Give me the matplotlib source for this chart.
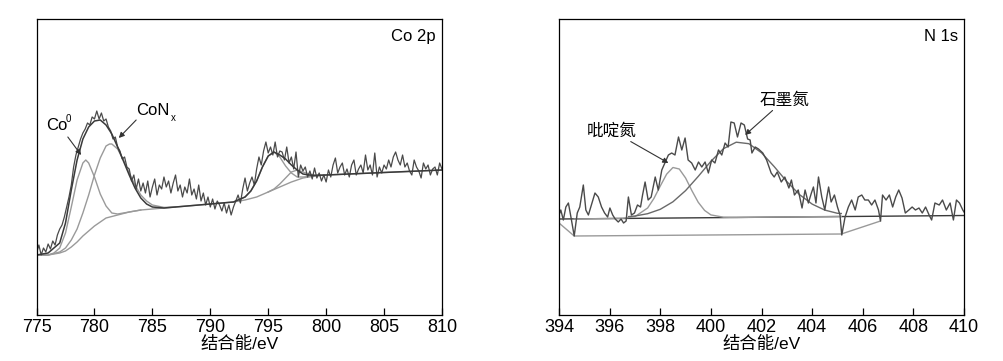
import numpy as np
import matplotlib.pyplot as plt

plt.rcParams['font.family'] = ['Liberation Sans', 'Noto Sans CJK SC', 'DejaVu Sans']

# ---- Co 2p ----
co_e = np.linspace(775, 810, 176)
co_raw = [62, 70, 60, 67, 63, 71, 66, 74, 70, 80, 86,
          90, 98, 108, 118, 130,
          148, 160, 168, 176, 182,
          186, 192, 190, 198, 196,
          204, 196, 202, 194, 196,
          188, 184, 176, 178, 168,
          164, 156, 158, 148, 146,
          134, 140, 126, 136, 124,
          132, 122, 134, 118, 128,
          136, 120, 130, 126, 138,
          128, 134, 122, 132, 140,
          124, 130, 118, 128, 122,
          136, 120, 126, 116, 130,
          114, 122, 110, 118, 108,
          116, 106, 114, 110, 104,
          112, 102, 110, 100, 108,
          114, 120, 112, 126, 137,
          124, 132, 138, 130, 146,
          158, 150, 164, 173, 162,
          168, 160, 173, 158, 164,
          163, 155, 168, 152, 158,
          146, 163, 138, 150, 144,
          148, 138, 144, 136, 147,
          137, 142, 134, 140, 133,
          145, 138, 150, 157, 142,
          148, 152, 140, 146, 138,
          150, 155, 140, 146, 150,
          142, 160, 145, 150, 140,
          162, 138, 148, 142, 150,
          146, 155, 148, 158, 163,
          155, 150, 160, 148, 152,
          144, 140, 155, 148, 144,
          137, 152, 146, 150, 140,
          146, 148, 140, 152, 146]

co_env_e = [775, 776, 777, 777.5, 778, 778.5, 779, 779.5, 780, 780.5, 781, 781.5, 782, 782.5,
            783, 783.5, 784, 784.5, 785, 786, 787, 788, 789, 790, 791, 792, 793, 793.5, 794,
            794.5, 795, 795.5, 796, 796.5, 797, 797.5, 798, 798.5, 799, 800, 802, 804, 806,
            808, 810]
co_env = [60, 62, 72, 92, 125, 155, 176, 188, 194, 195, 190, 181, 168, 154, 140, 127, 117,
          111, 108, 107, 108, 109, 110, 111, 112, 113, 118, 124, 134, 148, 159, 163, 160, 156,
          150, 145, 141, 140, 139.5, 140, 141, 142, 143, 144, 145]

co_bg_e = [775, 776, 777, 777.5, 778, 778.5, 779, 779.5, 780, 780.5, 781, 782, 783, 784, 785,
           786, 787, 788, 789, 790, 791, 792, 793, 794, 795, 796, 797, 798, 799, 800, 802, 804,
           806, 808, 810]
co_bg = [60, 60, 62, 64, 68, 73, 79, 84, 89, 93, 97, 100, 103, 105, 106, 107, 108, 109, 110,
         111, 112, 113, 115, 118, 123, 128, 133, 137, 139, 140, 141, 142, 143, 144, 145]

co0_e = [775, 776, 776.5, 777, 777.5, 778, 778.5, 779, 779.25, 779.5, 780, 780.5, 781, 781.5,
         782, 783, 784]
co0 = [60, 60, 62, 67, 82, 108, 135, 152, 155, 152, 138, 121, 109, 102, 101, 103, 105]

conx_e = [775, 776, 777, 777.5, 778, 778.5, 779, 779.5, 780, 780.5, 781, 781.3, 781.5, 782,
          782.5, 783, 783.5, 784, 784.5, 785, 786, 787]
conx = [60, 60, 63, 67, 75, 86, 102, 120, 140, 157, 169, 171, 171, 166, 155, 142, 130, 120,
        114, 110, 107.6, 108]

sat1_e = [792, 793, 793.5, 794, 794.5, 795, 795.5, 796, 796.5, 797, 797.5, 798, 799]
sat1 = [113, 118, 124, 134, 148, 159, 163, 158, 149, 142, 138, 138, 139]
sat2_e = [795, 795.5, 796, 796.5, 797, 797.5, 798, 798.5, 799, 800]
sat2 = [123, 126, 131, 137, 143, 145, 143, 141, 140, 140]

# ---- N 1s ----
n_e = [394.00, 394.07, 394.17, 394.27, 394.37, 394.47, 394.60, 394.72, 394.82, 394.96,
       395.06, 395.16, 395.28, 395.42, 395.55, 395.68, 395.80, 395.92, 396.01, 396.12,
       396.22, 396.34, 396.45, 396.55, 396.65, 396.74, 396.86, 396.98, 397.10, 397.22,
       397.30, 397.40, 397.52, 397.64, 397.80, 397.92, 398.06, 398.18, 398.32, 398.45,
       398.58, 398.72, 398.85, 398.98, 399.10, 399.24, 399.38, 399.51, 399.64, 399.77,
       399.90, 400.03, 400.16, 400.30, 400.43, 400.56, 400.68, 400.79, 400.92, 401.05,
       401.19, 401.32, 401.45, 401.55, 401.62, 401.75, 401.88, 402.05, 402.20, 402.38,
       402.50, 402.62, 402.78, 402.92, 403.08, 403.18, 403.30, 403.45, 403.60, 403.72,
       403.85, 403.97, 404.05, 404.15, 404.25, 404.38, 404.50, 404.58, 404.65, 404.75,
       404.88, 405.00, 405.10, 405.17, 405.30, 405.43, 405.56, 405.70, 405.82, 405.96,
       406.08, 406.22, 406.35, 406.48, 406.62, 406.70, 406.78, 406.92, 407.05, 407.18,
       407.30, 407.42, 407.55, 407.68, 407.82, 407.95, 408.08, 408.22, 408.35, 408.48,
       408.62, 408.72, 408.85, 409.02, 409.15, 409.30, 409.45, 409.58, 409.70, 409.82,
       409.95, 410.00]
n_raw = [100, 105, 95, 108, 112, 98, 79, 102, 108, 130,
         105, 100, 110, 122, 118, 108, 102, 98, 107, 100,
         96, 93, 96, 92, 94, 118, 100, 102, 110, 108,
         120, 133, 115, 118, 138, 125, 145, 152, 160, 162,
         160, 178, 165, 177, 155, 152, 145, 153, 148, 153,
         142, 155, 152, 165, 160, 172, 168, 193, 192, 178,
         192, 190, 176, 175, 162, 168, 166, 162, 155, 142,
         138, 143, 133, 138, 127, 135, 120, 125, 107, 125,
         112, 122, 128, 112, 138, 118, 105, 118, 128, 113,
         120, 108, 100, 80, 98, 108, 115, 105, 118, 120,
         115, 115, 110, 115, 105, 94, 120, 115, 120, 108,
         118, 125, 117, 102, 105, 108, 105, 107, 102, 108,
         100, 95, 112, 110, 115, 105, 112, 95, 115, 112,
         105, 103]

n_base_e = [394, 410]
n_base = [96, 99.5]

n_low_e = [394.0, 394.6, 405.15, 406.7]
n_low = [92, 79, 81, 94]

pyr_e = [394.6, 396, 396.5, 397, 397.5, 397.75, 398, 398.25, 398.5, 398.75, 399, 399.25,
         399.5, 399.75, 400, 400.5, 401, 402, 404, 405.15]
pyr = [96, 96.5, 96.7, 98.4, 107, 116.6, 129, 140.8, 147.5, 146, 137, 124.3, 112.7, 104.6,
       100.1, 97.8, 97.6, 97.8, 98.3, 98.6]

gra_e = [396.75, 397, 397.5, 398, 398.5, 399, 399.5, 400, 400.5, 401, 401.5, 402, 402.5,
         403, 403.5, 404, 404.5, 405, 405.15]
gra = [98.4, 99, 101.3, 105.7, 113.2, 124.4, 138.6, 153.7, 166.4, 172.8, 171.3, 162.2, 148.4,
       133.4, 120.4, 110.9, 104.9, 101.7, 101.5]

RAW = '#4a4a4a'
FIT = '#3a3a3a'
COMP = '#9a9a9a'
ARROW = dict(arrowstyle='-|>', color='#333333', lw=0.8, mutation_scale=8,
             shrinkA=0, shrinkB=0)


def style_axes(ax, xlim, step, label_txt):
    ax.set_xlim(*xlim)
    ax.set_ylim(0, 296)
    ax.set_xticks(np.arange(xlim[0], xlim[1] + 0.01, step))
    ax.set_yticks([])
    ax.tick_params(axis='x', direction='in', length=5, width=0.9, labelsize=13,
                   pad=3, top=False)
    for s in ax.spines.values():
        s.set_linewidth(0.9)
    ax.set_xlabel('结合能/eV', fontsize=12.5, labelpad=0)
    ax.text(0.985, 0.94, label_txt, transform=ax.transAxes, ha='right', va='center',
            fontsize=12)


fig = plt.figure(figsize=(10.04, 3.61), dpi=100)
ax1 = fig.add_axes([0.0364, 0.1274, 0.4038, 0.82])
ax2 = fig.add_axes([0.5568, 0.1274, 0.4034, 0.82])

# Co 2p panel
ax1.plot(co_bg_e, co_bg, color=COMP, lw=1)
ax1.plot(co0_e, co0, color=COMP, lw=1)
ax1.plot(conx_e, conx, color=COMP, lw=1)
ax1.plot(sat1_e, sat1, color=COMP, lw=1)
ax1.plot(sat2_e, sat2, color=COMP, lw=1)
ax1.plot(co_e, co_raw, color=RAW, lw=0.9)
ax1.plot(co_env_e, co_env, color=FIT, lw=1.1)
style_axes(ax1, (775, 810), 5, 'Co 2p')

ax1.text(776.75, 189, 'Co', fontsize=12, ha='center', va='center')
ax1.text(777.75, 196, '0', fontsize=7, ha='center', va='center')
ax1.annotate('', xy=(778.85, 160), xytext=(777.7, 178), arrowprops=ARROW)
ax1.text(785.0, 204, 'CoN', fontsize=12, ha='center', va='center')
ax1.text(786.8, 197, 'x', fontsize=7, ha='center', va='center')
ax1.annotate('', xy=(782.1, 177), xytext=(783.6, 195), arrowprops=ARROW)

# N 1s panel
ax2.plot(n_low_e, n_low, color=COMP, lw=1)
ax2.plot(n_base_e, n_base, color=FIT, lw=1)
ax2.plot(pyr_e, pyr, color=COMP, lw=1)
ax2.plot(gra_e, gra, color='#6a6a6a', lw=1)
ax2.plot(n_e, n_raw, color=RAW, lw=1)
style_axes(ax2, (394, 410), 2, 'N 1s')
ax2.annotate('吡啶氮', xy=(398.32, 152), xytext=(396.1, 184), fontsize=12,
             ha='center', va='center', arrowprops=ARROW)
ax2.annotate('石墨氮', xy=(401.35, 180), xytext=(402.9, 215), fontsize=12,
             ha='center', va='center', arrowprops=ARROW)

fig.savefig('out.png', dpi=100)
